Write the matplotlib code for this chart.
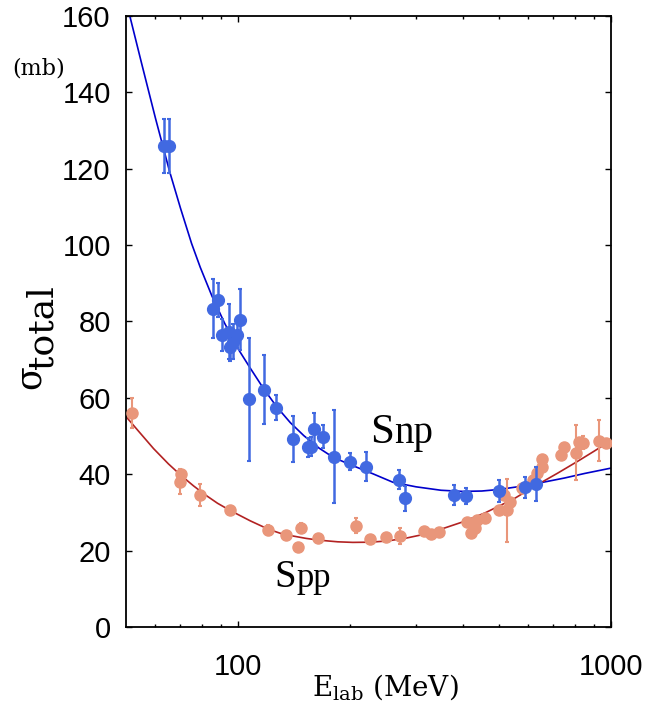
import matplotlib
matplotlib.use("Agg")
import matplotlib.pyplot as plt
from matplotlib.ticker import FixedLocator, NullFormatter

# np total cross section: energy (MeV), sigma (mb), error (mb)
np_energy = [63.2, 65.2, 85.4, 88.4, 90.4, 94.2, 95.2, 96.8, 99.2, 101.2,
             107.2, 117.4, 126.3, 140.6, 153.6, 156.4, 160.0, 169.0, 180.6, 200.0,
             220.8, 270.0, 280.8, 380.0, 408.6, 499.3, 587.5, 628.5]
np_sigma = [126.0, 126.0, 83.3, 85.6, 76.5, 77.3, 73.4, 74.7, 76.5, 80.4,
            59.6, 62.1, 57.4, 49.2, 47.0, 47.2, 51.8, 49.8, 44.6, 43.3,
            42.0, 38.6, 33.7, 34.6, 34.3, 35.6, 36.6, 37.5]
np_err = [7.0, 7.0, 7.7, 4.5, 4.2, 7.2, 3.8, 4.6, 3.5, 8.0,
          16.2, 9.0, 3.3, 6.1, 2.5, 2.5, 4.2, 3.0, 12.1, 2.3,
          3.9, 2.6, 3.3, 2.7, 2.2, 2.8, 2.7, 4.5]

# pp total cross section
pp_energy = [52.0, 70.4, 70.0, 78.8, 95.2, 120.5, 134.4, 144.4, 147.4, 164.0,
             207.6, 225.2, 249.8, 271.0, 314.9, 329.8, 345.0, 410.0, 421.9, 430.7,
             437.6, 460.0, 499.3, 526.5, 536.0, 518.0, 579.0, 616.0, 635.0, 654.0,
             652.0, 733.6, 750.0, 803.6, 821.0, 843.5, 929.0, 967.0]
pp_sigma = [56.0, 40.0, 38.0, 34.6, 30.6, 25.4, 24.2, 21.0, 26.0, 23.2,
            26.5, 23.0, 23.6, 23.8, 25.1, 24.4, 25.0, 27.6, 24.7, 25.8,
            28.0, 28.5, 30.6, 30.5, 32.8, 34.6, 36.3, 38.5, 40.2, 41.8,
            43.9, 45.0, 47.2, 45.6, 48.5, 48.3, 48.8, 48.3]
pp_err = [3.9, 0.8, 3.3, 2.9, 0.0, 1.2, 0.0, 0.0, 1.3, 1.0,
          2.0, 0.0, 0.5, 2.2, 0.0, 0.0, 0.0, 0.0, 0.0, 0.0,
          0.0, 0.0, 0.0, 8.3, 0.0, 0.0, 0.0, 0.0, 0.0, 0.0,
          0.0, 0.0, 0.0, 7.2, 0.0, 1.8, 5.3, 0.0]

# fitted curves
np_curve_e = [51.2, 55, 60, 65.5, 70, 75, 79.1, 85, 92, 100, 107.7, 117, 127, 138,
              150, 165, 180, 200, 230, 260, 300, 350, 400, 450, 500, 580, 650,
              750, 850, 1000]
np_curve_s = [160, 147.8, 133.2, 119.2, 109.7, 100.4, 94.2, 86.7, 79.5, 72.8, 67.8,
              62.4, 57.6, 53.5, 50.1, 46.8, 44.4, 42.5, 40.1, 37.9, 36.7, 35.8, 35.5,
              35.6, 36.0, 36.9, 37.8, 39.0, 40.2, 41.6]
pp_curve_e = [50, 54, 59.3, 65, 70.4, 76, 81.6, 88, 95.2, 107.7, 120.5, 130, 140.6,
              152, 164, 185, 203, 225, 250, 280, 313, 350, 400, 460, 550, 628, 720,
              821, 900, 1000]
pp_curve_s = [55.1, 51.3, 46.7, 42.7, 39.6, 36.9, 34.6, 32.4, 30.5, 27.8, 25.6, 24.5,
              23.8, 23.2, 22.75, 22.3, 22.15, 22.2, 22.5, 23.2, 24.2, 25.6, 27.5,
              29.9, 33.6, 37.0, 40.3, 43.6, 46.0, 48.8]

y_ticks = [0, 20, 40, 60, 80, 100, 120, 140, 160]
x_ticks = [100, 1000]
x_minor = [60, 70, 80, 90, 200, 300, 400, 500, 600, 700, 800, 900]

plt.rcParams['mathtext.fontset'] = 'dejavuserif'
SERIF = 'DejaVu Serif'
TIMES = 'Liberation Serif'

fig = plt.figure(figsize=(6.49, 7.07), dpi=100)
ax = fig.add_axes([0.1941, 0.1132, 0.7473, 0.8642])

blue_pt = '#4169e1'
salmon_pt = '#e9967a'

ax.plot(np_curve_e, np_curve_s, color='#0000cc', lw=1.2, zorder=2)
ax.plot(pp_curve_e, pp_curve_s, color='#b22222', lw=1.2, zorder=2)

ax.errorbar(pp_energy, pp_sigma, yerr=pp_err, fmt='o', color=salmon_pt,
            ms=8, elinewidth=1.5, capsize=1.6, capthick=1.5, zorder=3)
ax.errorbar(np_energy, np_sigma, yerr=np_err, fmt='o', color=blue_pt,
            ms=8.5, elinewidth=1.8, capsize=1.6, capthick=1.5, zorder=4)

ax.set_xscale('log')
ax.set_xlim(50, 1000)
ax.set_ylim(0, 160)
ax.xaxis.set_major_locator(FixedLocator(x_ticks))
ax.xaxis.set_minor_locator(FixedLocator(x_minor))
ax.xaxis.set_minor_formatter(NullFormatter())
ax.set_xticklabels([str(v) for v in x_ticks])
ax.set_yticks(y_ticks)
ax.set_yticklabels([str(v) for v in y_ticks])

ax.tick_params(which='both', direction='in', top=True, right=True, width=1.0)
ax.tick_params(which='major', length=4)
ax.tick_params(which='minor', length=2.5)
ax.tick_params(axis='y', pad=11)
ax.tick_params(axis='x', which='major', pad=19)
for lab in ax.get_xticklabels() + ax.get_yticklabels():
    lab.set_fontfamily('Liberation Sans')
    lab.set_fontsize(21)
for sp in ax.spines.values():
    sp.set_linewidth(1.3)

W, H = 649.0, 707.0
# axis titles
fig.text(385 / W, 1 - 695 / H, r'$\mathrm{E}_{\mathrm{lab}}$ (MeV)', fontsize=20,
         family=SERIF, ha='center', va='baseline')
fig.text(40 / W, 1 - 389 / H, 'σ', fontsize=25, family=SERIF, rotation=90,
         rotation_mode='anchor', ha='left', va='baseline')
fig.text(53 / W, 1 - 369 / H, 'total', fontsize=26, family=SERIF, rotation=90,
         rotation_mode='anchor', ha='left', va='baseline')
fig.text(12 / W, 1 - 74 / H, '(mb)', fontsize=16, family=SERIF, va='baseline')

# curve labels: a large S with the reaction tag set right after it
fig.canvas.draw()
renderer = fig.canvas.get_renderer()


def curve_label(e, s, sub, big, small):
    head = ax.text(e, s, 'S', fontsize=big, family=TIMES, va='baseline')
    bb = head.get_window_extent(renderer)
    _, y_disp = ax.transData.transform((e, s))
    e_sub, _ = ax.transData.inverted().transform((bb.x1 + 0.5, y_disp))
    ax.text(e_sub, s, sub, fontsize=small, family=TIMES, va='baseline')


curve_label(225.5, 48.2, 'np', 31, 28)
curve_label(124.8, 10.5, 'pp', 28, 25)

fig.savefig('out.png', dpi=100)
